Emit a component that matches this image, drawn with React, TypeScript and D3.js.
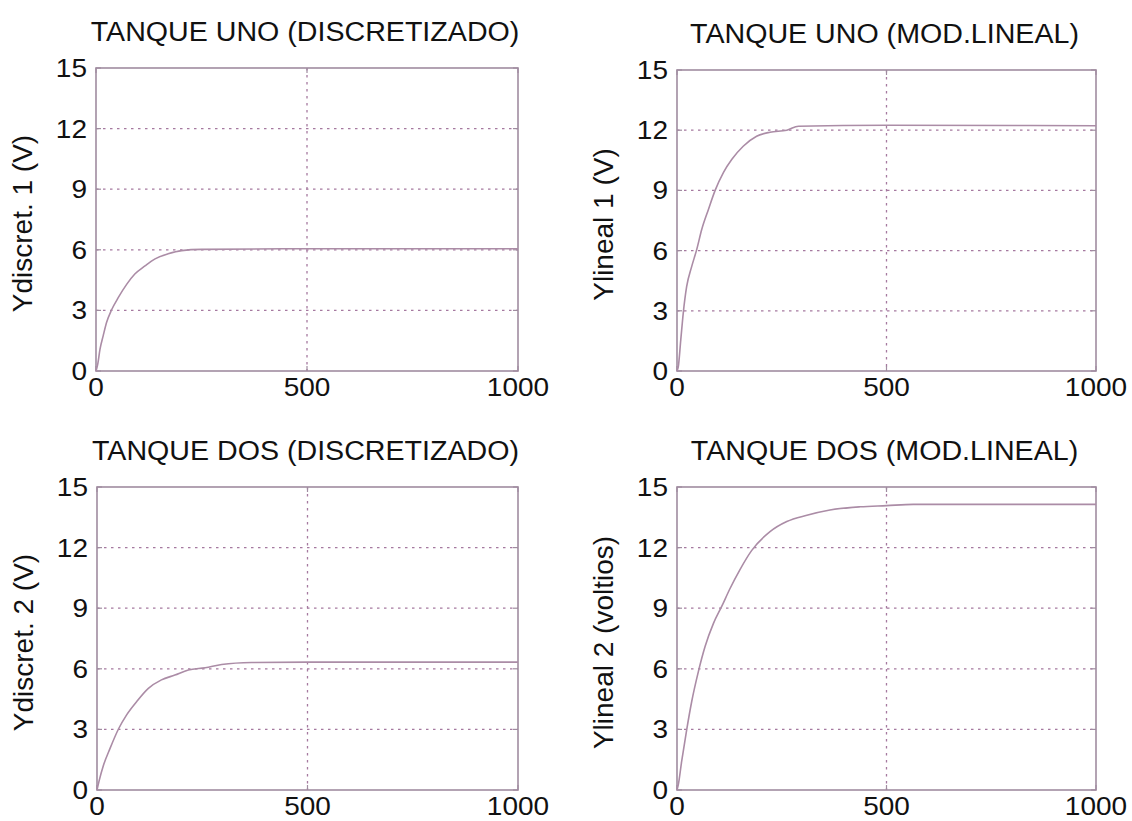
import React from "react";
import * as d3 from "d3";

const WIDTH = 1132;
const HEIGHT = 821;

// Axis ticks shared by all four plots
const xTicks = [0, 500, 1000];
const yTicks = [0, 3, 6, 9, 12, 15];
const xGridValues = [500];
const yGridValues = [3, 6, 9, 12];

// Tank 1, discretized model
const tank1DiscT = [0, 4, 9.5, 17, 25, 37, 53, 73, 92, 116, 140, 171, 203, 250, 500, 1000];
const tank1DiscY = [0, 0.33, 1.08, 1.74, 2.4, 3.03, 3.64, 4.3, 4.8, 5.2, 5.55, 5.8, 5.96, 6.02, 6.05, 6.05];

// Tank 1, linear model
const tank1LinT = [0, 3, 9, 15, 23, 35, 47, 59, 75, 91, 111, 131, 158, 190, 222, 262, 290, 500, 1000];
const tank1LinY = [0, 0.2, 1.55, 2.9, 4.2, 5.2, 6.05, 7.05, 8.05, 9.0, 9.9, 10.55, 11.2, 11.7, 11.9, 12.0, 12.2, 12.25, 12.22];

// Tank 2, discretized model
const tank2DiscT = [0, 5, 15, 31, 51, 70, 94, 122, 153, 185, 217, 257, 296, 367, 500, 1000];
const tank2DiscY = [0, 0.45, 1.2, 2.06, 3.02, 3.71, 4.37, 5.03, 5.45, 5.69, 5.94, 6.05, 6.21, 6.31, 6.33, 6.33];

// Tank 2, linear model
const tank2LinT = [0, 3, 11, 23, 35, 51, 67, 87, 107, 126, 150, 178, 222, 262, 310, 365, 437, 500, 564, 1000];
const tank2LinY = [0, 0.25, 1.4, 2.97, 4.37, 5.86, 7.1, 8.25, 9.1, 9.95, 10.9, 11.85, 12.79, 13.29, 13.6, 13.86, 14.02, 14.08, 14.14, 14.14];

const FRAME = "#a08ca0";
const GRID = "#a5799f";
const CURVE = "#ab8ca6";
const FONT = "'Liberation Sans', Arial, Helvetica, sans-serif";
const TEXT = "#111";

type Box = { left: number; right: number; top: number; bottom: number };

type PanelSpec = {
  title: string;
  ylabel: string;
  t: number[];
  y: number[];
  box: Box;
};

const panels: PanelSpec[] = [
  { title: "TANQUE UNO (DISCRETIZADO)", ylabel: "Ydiscret. 1 (V)", t: tank1DiscT, y: tank1DiscY, box: { left: 96, right: 518, top: 68, bottom: 371 } },
  { title: "TANQUE UNO (MOD.LINEAL)", ylabel: "Ylineal 1 (V)", t: tank1LinT, y: tank1LinY, box: { left: 677, right: 1096, top: 70, bottom: 371 } },
  { title: "TANQUE DOS (DISCRETIZADO)", ylabel: "Ydiscret. 2 (V)", t: tank2DiscT, y: tank2DiscY, box: { left: 97, right: 518, top: 487, bottom: 790 } },
  { title: "TANQUE DOS (MOD.LINEAL)", ylabel: "Ylineal 2 (voltios)", t: tank2LinT, y: tank2LinY, box: { left: 677, right: 1096, top: 487, bottom: 790 } },
];

// Text drawn slightly wide, like the printed figure's lettering
function WideText({ x, y, size, sx, anchor, children }: { x: number; y: number; size: number; sx: number; anchor: "start" | "middle" | "end"; children: React.ReactNode }) {
  return (
    <text transform={`translate(${x},${y}) scale(${sx},1)`} textAnchor={anchor} fontSize={size} fontFamily={FONT} fill={TEXT}>
      {children}
    </text>
  );
}

function Panel({ spec }: { spec: PanelSpec }) {
  const { box } = spec;
  const x = d3.scaleLinear().domain([0, 1000]).range([box.left, box.right]);
  const y = d3.scaleLinear().domain([0, 15]).range([box.bottom, box.top]);
  const pts: [number, number][] = spec.t.map((t, i) => [t, spec.y[i]]);
  const line = d3
    .line<[number, number]>()
    .x((d) => x(d[0]))
    .y((d) => y(d[1]))
    .curve(d3.curveMonotoneX);
  const cx = (box.left + box.right) / 2;
  const cy = (box.top + box.bottom) / 2;
  const tickLen = 5;

  return (
    <g>
      {/* grid */}
      {yGridValues.map((v) => (
        <line key={"gy" + v} x1={box.left} x2={box.right} y1={y(v)} y2={y(v)} stroke={GRID} strokeWidth={1.3} strokeDasharray="2.5,4.5" />
      ))}
      {xGridValues.map((v) => (
        <line key={"gx" + v} x1={x(v)} x2={x(v)} y1={box.top} y2={box.bottom} stroke={GRID} strokeWidth={1.3} strokeDasharray="2.5,4.5" />
      ))}
      {/* inward tick marks */}
      {yTicks.map((v) => (
        <g key={"ty" + v}>
          <line x1={box.left} x2={box.left + tickLen} y1={y(v)} y2={y(v)} stroke={FRAME} strokeWidth={1.2} />
          <line x1={box.right} x2={box.right - tickLen} y1={y(v)} y2={y(v)} stroke={FRAME} strokeWidth={1.2} />
        </g>
      ))}
      {xTicks.map((v) => (
        <g key={"tx" + v}>
          <line x1={x(v)} x2={x(v)} y1={box.bottom} y2={box.bottom - tickLen} stroke={FRAME} strokeWidth={1.2} />
          <line x1={x(v)} x2={x(v)} y1={box.top} y2={box.top + tickLen} stroke={FRAME} strokeWidth={1.2} />
        </g>
      ))}
      {/* frame */}
      <rect x={box.left} y={box.top} width={box.right - box.left} height={box.bottom - box.top} fill="none" stroke={FRAME} strokeWidth={1.6} />
      {/* response curve */}
      <path d={line(pts) ?? ""} fill="none" stroke={CURVE} strokeWidth={1.6} />
      {/* tick labels */}
      {yTicks.map((v) => (
        <WideText key={"ly" + v} x={box.left - 9} y={y(v) + 9} size={25} sx={1.12} anchor="end">
          {v}
        </WideText>
      ))}
      {xTicks.map((v) => (
        <WideText key={"lx" + v} x={x(v)} y={box.bottom + 25} size={25} sx={1.12} anchor="middle">
          {v}
        </WideText>
      ))}
      {/* title */}
      <WideText x={cx - 2} y={box.top - 27} size={27} sx={1.06} anchor="middle">
        {spec.title}
      </WideText>
      {/* y label */}
      <text
        transform={`translate(${box.left - 64},${cy + 4}) rotate(-90)`}
        textAnchor="middle"
        fontSize={28}
        fontFamily={FONT}
        fill={TEXT}
      >
        {spec.ylabel}
      </text>
    </g>
  );
}

export default function App() {
  return (
    <svg
      width={WIDTH}
      height={HEIGHT}
      viewBox={`0 0 ${WIDTH} ${HEIGHT}`}
      style={{ position: "absolute", left: 0, top: 0, background: "#fff" }}
    >
      <rect width={WIDTH} height={HEIGHT} fill="#fff" />
      {panels.map((p, i) => (
        <Panel key={i} spec={p} />
      ))}
    </svg>
  );
}
